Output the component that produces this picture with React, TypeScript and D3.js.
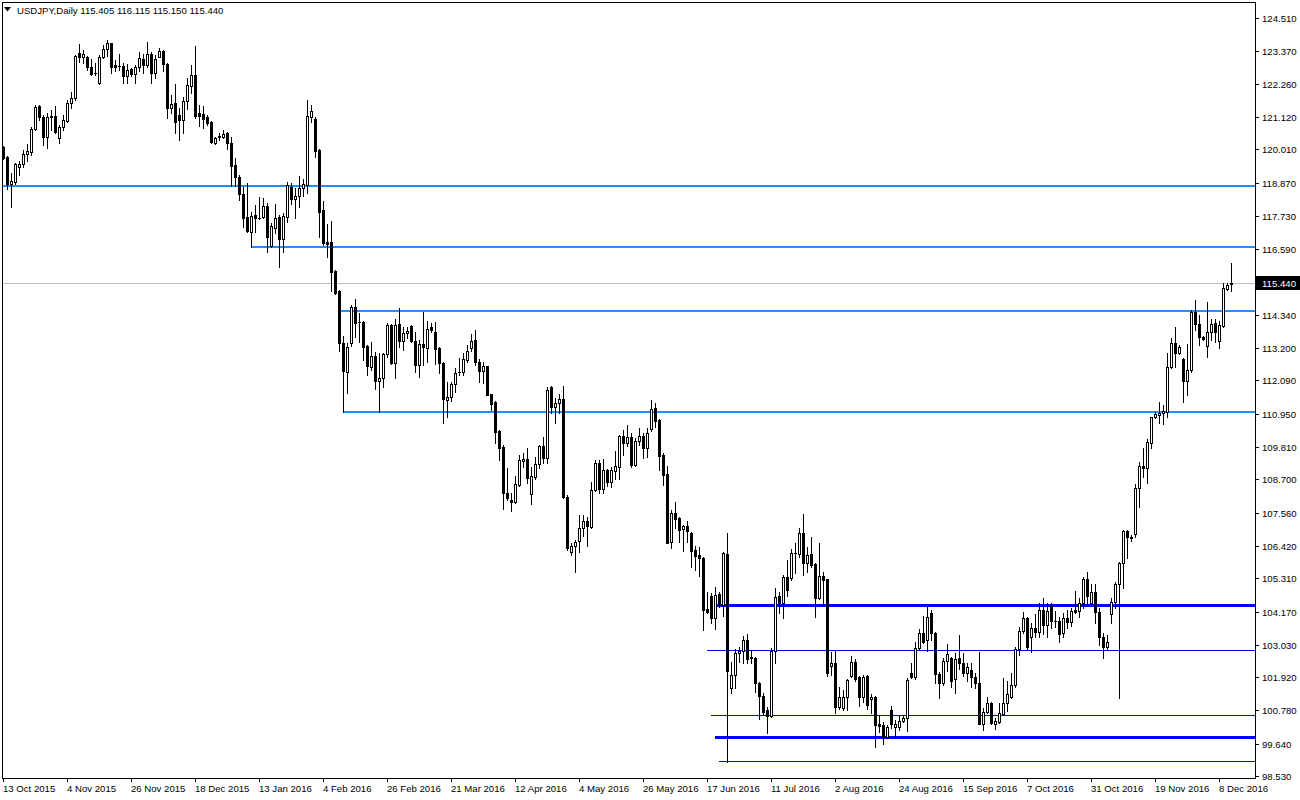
import React from 'react';
import * as d3 from 'd3';

const symbolTitle = 'USDJPY,Daily';
const lastOHLC = ['115.405', '116.115', '115.150', '115.440'];
const lastBid = 115.44;

const openP = [
120.09,119.75,118.82,118.89,119.40,119.51,119.85,119.92,120.71,121.49,
121.12,120.43,121.15,121.15,120.40,120.78,120.98,121.60,121.77,123.31,
123.17,123.17,122.83,122.62,122.28,123.17,123.45,123.65,122.90,122.87,
122.87,122.52,122.76,122.59,122.83,123.10,122.90,123.28,122.62,123.17,
123.38,122.93,121.43,121.60,121.19,121.02,121.67,122.18,122.56,121.25,
121.22,121.12,120.95,120.23,120.47,120.43,120.57,120.23,119.47,119.06,
118.48,117.69,117.18,117.76,117.66,117.69,118.07,116.70,117.31,117.69,
116.94,117.69,118.72,118.31,118.41,118.68,118.79,121.12,121.05,119.99,
117.93,116.83,116.83,115.84,115.15,113.37,112.38,113.37,114.61,114.09,
114.09,113.27,112.55,112.93,112.07,112.17,113.00,113.99,112.69,114.02,
113.44,113.71,113.95,113.44,112.62,113.34,113.20,113.92,113.75,113.20,
112.69,111.42,111.52,111.97,112.38,112.38,112.79,113.20,113.48,112.72,
112.41,112.58,111.62,111.35,110.36,109.81,108.23,107.99,107.92,108.51,
109.33,109.40,108.20,108.78,109.23,109.84,109.43,111.87,111.18,111.32,
111.45,108.09,106.21,106.42,106.59,107.03,107.27,107.07,108.33,109.26,
108.37,109.02,108.61,108.99,109.12,110.19,109.95,110.15,109.19,110.02,
110.19,109.77,110.43,111.14,110.73,109.53,108.88,106.55,107.55,107.38,
107.00,107.10,106.86,106.28,106.11,106.00,104.26,104.70,103.95,104.77,
104.39,106.14,101.55,102.00,102.75,102.82,103.20,102.61,102.58,101.72,
101.28,100.80,100.59,102.82,104.70,104.46,105.35,105.32,106.18,106.14,
106.86,105.83,106.14,105.80,104.63,105.39,105.28,102.30,102.40,100.90,
100.87,101.24,101.96,102.44,101.93,101.24,101.96,101.17,101.24,100.32,
100.28,99.87,100.80,100.21,100.21,100.42,100.52,102.06,101.93,102.92,
103.43,103.20,104.12,103.43,102.03,101.72,102.47,102.58,101.86,102.58,
102.40,102.06,102.17,101.93,101.72,100.32,100.73,101.04,100.32,100.38,
100.66,101.04,101.24,101.65,102.89,103.50,103.95,103.30,103.61,103.47,
104.22,103.71,104.36,103.85,103.85,103.43,103.95,103.81,104.22,104.19,
104.46,105.28,104.46,104.84,104.15,103.30,102.95,104.08,104.50,105.11,
105.84,106.93,106.72,106.83,108.40,109.16,109.09,109.95,110.84,110.90,
110.97,111.01,112.55,113.37,113.03,112.82,112.07,112.45,114.44,114.02,
113.58,113.27,113.75,114.06,113.44,113.95,115.22,115.405
];

const highP = [
120.12,119.78,119.20,119.54,119.61,119.99,120.19,120.78,121.53,121.53,
121.19,121.25,121.36,121.49,120.84,121.19,121.70,121.97,123.24,123.62,
123.41,123.21,123.10,122.97,123.24,123.58,123.76,123.67,123.07,123.28,
122.97,122.93,122.78,122.90,123.34,123.28,123.69,123.34,123.24,123.48,
123.41,122.97,121.87,122.25,121.43,121.80,122.45,122.90,123.55,121.53,
121.49,121.19,120.98,120.43,120.57,120.67,120.60,120.43,119.71,119.13,
118.72,118.86,117.86,118.10,118.38,118.34,118.17,117.48,118.14,117.76,
117.83,118.89,118.86,118.68,119.10,118.99,121.70,121.53,121.12,120.02,
118.24,117.45,117.55,115.87,115.19,113.61,113.37,114.68,114.88,114.40,
114.11,113.30,113.41,113.06,113.03,113.03,114.06,114.02,114.19,114.57,
113.92,113.92,113.99,113.75,113.48,114.44,114.13,114.06,114.09,113.22,
112.72,112.04,112.04,112.52,112.86,113.03,113.30,113.68,113.82,112.82,
112.72,112.60,111.64,111.38,110.38,109.88,109.09,108.23,108.81,109.53,
109.60,109.77,109.12,109.47,109.88,110.15,111.87,111.90,111.49,111.62,
111.90,108.16,106.52,106.62,107.48,107.48,107.41,108.61,109.36,109.36,
109.40,109.05,109.12,109.67,110.22,110.39,110.56,110.29,110.12,110.46,
110.29,110.46,111.42,111.32,110.77,109.60,109.16,107.65,107.92,107.41,
107.14,107.27,106.88,106.42,106.38,106.04,104.84,104.80,105.01,104.84,
106.21,106.86,102.44,102.89,102.95,103.33,103.40,102.85,102.60,101.76,
101.38,100.90,102.92,104.98,104.84,105.42,105.94,106.31,106.52,107.03,
107.51,106.38,106.72,105.83,106.52,105.53,105.30,102.78,102.82,101.58,
101.48,101.86,102.65,102.54,101.96,102.00,102.00,101.34,101.28,100.62,
100.38,100.28,100.93,100.45,100.62,100.62,101.89,102.40,103.13,103.57,
104.02,104.36,104.22,103.47,102.10,102.58,103.06,102.61,102.75,103.37,
102.75,102.40,102.40,102.06,102.78,100.87,101.24,101.07,100.52,101.04,
101.89,101.79,102.06,102.95,103.64,104.15,103.98,103.78,104.08,104.46,
104.63,104.46,104.46,104.19,103.98,104.12,104.22,104.29,104.87,104.63,
105.35,105.53,105.11,105.11,104.29,103.43,103.37,104.63,105.18,105.87,
106.96,106.96,106.79,108.54,109.30,109.77,110.08,110.84,111.01,111.35,
111.25,113.03,113.54,113.92,113.30,112.86,113.34,114.50,114.85,114.33,
113.61,114.78,114.19,114.19,114.13,115.43,115.43,116.115
];

const lowP = [
119.68,118.65,118.03,118.82,119.13,119.40,119.61,119.82,120.67,121.02,
120.16,120.05,120.67,120.57,120.23,120.67,120.95,121.43,121.70,123.00,
122.97,122.73,122.56,122.56,122.25,123.14,123.21,122.62,122.69,122.73,
122.28,122.28,122.52,122.28,122.69,122.62,122.83,122.28,122.45,123.17,
122.69,121.08,121.25,120.57,120.33,120.57,121.39,121.94,121.08,120.81,
120.74,120.84,120.23,120.19,120.33,120.40,120.02,118.75,118.75,118.27,
117.35,117.18,116.66,117.18,117.63,117.66,116.49,116.66,117.14,115.98,
116.49,117.52,118.14,117.66,118.03,118.41,118.51,120.95,119.75,117.00,
116.73,116.32,115.15,115.05,113.10,111.01,111.66,113.27,113.58,113.41,
112.79,112.28,112.45,111.80,111.01,111.87,112.89,112.66,112.17,113.24,
113.13,113.54,113.41,112.38,112.21,112.62,112.72,113.75,112.66,112.34,
110.63,110.84,111.39,111.69,112.28,112.28,112.72,113.10,112.62,112.04,
112.00,111.59,111.08,109.95,109.36,107.68,107.99,107.62,107.89,108.47,
109.12,108.57,107.86,108.71,109.09,109.26,109.26,110.97,110.63,110.97,
108.06,106.28,106.11,105.53,106.21,106.76,106.42,107.04,108.30,108.23,
108.23,108.47,108.44,108.71,108.71,109.53,109.84,109.12,109.16,109.88,
109.43,109.47,110.36,110.49,109.02,108.51,106.52,106.35,107.03,106.55,
106.24,106.55,105.70,105.59,105.39,103.54,104.12,103.78,103.57,104.32,
104.02,99.01,101.38,101.55,102.44,102.40,102.40,102.40,101.41,100.49,
100.62,100.01,100.56,102.40,104.12,103.95,104.70,105.25,105.49,106.04,
105.42,105.53,105.70,103.98,104.60,104.39,101.96,102.00,100.69,100.83,
100.80,100.80,101.93,101.79,100.93,101.07,100.83,100.69,99.53,100.04,
99.63,99.84,100.18,99.87,100.11,100.38,100.08,101.89,101.86,102.89,
103.09,102.82,103.20,101.72,101.21,101.65,102.13,101.58,101.38,102.20,
101.96,101.79,101.58,101.55,100.32,100.11,100.69,100.32,100.14,100.35,
100.62,100.76,101.21,101.58,102.68,103.43,102.89,102.78,103.30,103.30,
103.40,103.30,103.61,103.64,103.13,103.30,103.61,103.67,104.12,103.98,
104.29,104.46,104.43,103.78,103.02,102.58,102.89,103.78,104.29,101.21,
104.98,106.00,106.59,106.72,107.75,108.78,108.57,109.77,110.80,110.63,
110.59,110.84,112.52,112.55,113.00,111.35,111.59,112.38,113.82,113.30,
113.48,112.89,113.48,113.41,113.20,113.92,115.19,115.150
];

const closeP = [
119.71,118.82,118.92,119.51,119.51,119.85,119.95,120.71,121.46,121.12,
120.43,121.12,121.12,120.60,120.78,121.02,121.60,121.77,123.21,123.17,
123.28,122.83,122.59,122.63,123.17,123.45,123.65,122.83,122.83,122.86,
122.52,122.73,122.59,122.83,123.14,122.90,123.28,122.62,123.10,123.38,
122.93,121.43,121.56,120.95,121.02,121.67,122.21,122.56,121.15,121.15,
121.05,120.91,120.26,120.40,120.44,120.54,120.23,119.44,119.06,118.48,
117.66,117.21,117.73,117.66,117.67,118.07,117.00,117.38,117.66,116.94,
117.73,118.79,118.31,118.41,118.68,118.82,121.15,121.32,119.95,117.86,
116.80,116.77,115.81,115.08,113.37,112.41,113.24,114.61,114.06,114.08,
113.24,112.58,112.93,112.07,112.17,113.00,113.99,112.69,113.99,113.44,
113.71,113.78,113.44,112.62,113.34,113.24,113.85,113.82,113.17,112.69,
111.45,111.52,111.97,112.34,112.39,112.82,113.10,113.44,112.72,112.41,
112.58,111.59,111.28,110.32,109.77,108.23,108.06,107.92,108.54,109.36,
109.40,108.74,108.81,109.23,109.84,109.43,111.76,111.18,111.32,111.45,
108.09,106.35,106.42,106.55,107.03,107.27,107.10,108.33,109.26,108.37,
109.02,108.61,109.02,109.16,110.19,109.95,110.15,109.19,110.02,110.19,
109.77,110.29,111.11,110.70,109.50,108.85,106.52,107.55,107.34,106.96,
107.10,106.93,106.24,106.07,106.00,104.22,104.15,103.95,104.74,104.43,
106.18,102.13,102.00,102.75,102.82,103.20,102.54,102.58,101.72,101.28,
100.73,100.59,102.82,104.67,104.46,105.35,104.91,106.18,106.17,106.86,
105.83,106.11,105.76,104.63,105.39,105.25,102.06,102.40,100.90,101.24,
101.24,101.82,102.44,101.86,101.24,101.93,100.97,101.24,100.28,100.25,
99.87,100.21,100.32,100.32,100.42,100.52,101.82,101.93,102.92,103.43,
103.13,103.98,103.43,102.03,101.72,102.47,102.71,101.79,102.54,102.40,
102.06,102.27,101.93,101.72,100.32,100.73,101.04,100.35,100.42,100.69,
101.04,101.34,101.65,102.89,103.50,103.95,102.95,103.61,103.47,104.22,
103.71,104.19,103.85,103.84,103.40,103.95,103.81,104.19,104.15,104.46,
105.28,104.70,104.84,104.15,103.30,102.95,103.13,104.50,105.11,105.84,
106.93,106.72,106.69,108.40,109.16,109.09,109.98,110.84,110.94,110.97,
111.04,112.55,113.37,113.03,113.24,112.07,112.45,114.44,114.02,113.58,
113.51,113.75,114.02,113.75,113.99,115.26,115.36,115.44
];

const dateLabels = [
  '13 Oct 2015', '4 Nov 2015', '26 Nov 2015', '18 Dec 2015', '13 Jan 2016',
  '4 Feb 2016', '26 Feb 2016', '21 Mar 2016', '12 Apr 2016', '4 May 2016',
  '26 May 2016', '17 Jun 2016', '11 Jul 2016', '2 Aug 2016', '24 Aug 2016',
  '15 Sep 2016', '7 Oct 2016', '31 Oct 2016', '19 Nov 2016', '8 Dec 2016'
];
const barsPerDateLabel = 16;

const priceTicks = [
  124.51, 123.37, 122.26, 121.12, 120.01, 118.87, 117.73, 116.59,
  114.34, 113.2, 112.09, 110.95, 109.81, 108.7, 107.56, 106.42,
  105.31, 104.17, 103.03, 101.92, 100.78, 99.64, 98.53
];

// horizontal support / resistance levels
const levelPrices = [118.74, 116.65, 114.48, 111.02, 104.40, 102.85, 100.61, 99.88, 99.05];
const levelStartBar = [-2, 62, 84, 85, 178, 176, 177, 178, 179];
const levelKind = ['light', 'light', 'light', 'light', 'thick', 'thin', 'thin', 'thick', 'thin'];

const W = 1300;
const H = 800;
const PL = 2;
const PR = 1255;
const PT = 2;
const PB = 778;
const FONT = '"Liberation Sans", Arial, sans-serif';

export default function App() {
  const n = closeP.length;
  const x = d3.scaleLinear().domain([0, n - 1]).range([3.3, 3.3 + 4 * (n - 1)]);
  const y = d3.scaleLinear().domain([124.51, 98.53]).range([18, 776.1]);

  const levelStyles: Record<string, { color: string; w: number }> = {
    light: { color: '#1E90FF', w: 2 },
    thick: { color: '#0000FF', w: 3 },
    thin: { color: '#0000FF', w: 1 },
  };

  const candles = closeP.map((c, i) => {
    const o = openP[i];
    const cx = Math.round(x(i));
    const yH = Math.round(y(highP[i]));
    const yL = Math.round(y(lowP[i]));
    const yTop = Math.round(y(Math.max(o, c)));
    const yBot = Math.round(y(Math.min(o, c)));
    const bull = c >= o;
    const bh = yBot - yTop;
    return (
      <g key={i}>
        <line x1={cx + 0.5} x2={cx + 0.5} y1={yH} y2={yL + 1} stroke="#000" strokeWidth={1} />
        {bh >= 1 ? (
          <rect x={cx - 1 + 0.5} y={yTop + 0.5} width={2} height={bh}
            fill={bull ? '#fff' : '#000'} stroke="#000" strokeWidth={1} />
        ) : (
          <line x1={cx - 1} x2={cx + 2} y1={yTop + 0.5} y2={yTop + 0.5} stroke="#000" strokeWidth={1} />
        )}
      </g>
    );
  });

  const bidY = Math.round(y(lastBid));

  return (
    <svg width={W} height={H} style={{ position: 'absolute', left: 0, top: 0, background: '#fff' }}
      fontFamily={FONT}>
      <rect x={0} y={0} width={W} height={H} fill="#fff" />
      <defs>
        <clipPath id="plot">
          <rect x={PL + 0.5} y={PT + 0.5} width={PR - PL} height={PB - PT} />
        </clipPath>
      </defs>

      {/* bid line */}
      <line x1={PL} x2={PR} y1={bidY + 0.5} y2={bidY + 0.5} stroke="#C0C0C0" strokeWidth={1} />

      {/* levels */}
      <g clipPath="url(#plot)">
        {levelPrices.map((p, k) => {
          const st = levelStyles[levelKind[k]];
          const yr = Math.round(y(p));
          const yy = st.w % 2 === 1 ? yr + 0.5 : yr;
          return (
            <line key={k} x1={Math.round(x(levelStartBar[k]))} x2={PR} y1={yy} y2={yy}
              stroke={st.color} strokeWidth={st.w} />
          );
        })}
        {candles}
      </g>

      {/* frame */}
      <rect x={PL + 0.5} y={PT + 0.5} width={PR - PL} height={PB - PT} fill="none" stroke="#000" strokeWidth={1} />

      {/* title */}
      <path d="M4,7 L11,7 L7.5,11.5 Z" fill="#000" />
      <text x={17} y={14} fontSize={9.6} fill="#000">
        {symbolTitle + ' ' + lastOHLC.join(' ')}
      </text>

      {/* price axis */}
      {priceTicks.map((p, k) => {
        const yy = Math.round(y(p));
        return (
          <g key={k}>
            <line x1={PR} x2={PR + 4} y1={yy + 0.5} y2={yy + 0.5} stroke="#000" strokeWidth={1} />
            <text x={1262} y={yy + 3.5} fontSize={9.6} fill="#000">{p.toFixed(3)}</text>
          </g>
        );
      })}
      <rect x={PR + 1} y={bidY - 7} width={W - PR - 1} height={14} fill="#000" />
      <text x={1262} y={bidY + 4} fontSize={9.6} fill="#fff">{lastBid.toFixed(3)}</text>

      {/* time axis */}
      {dateLabels.map((d, k) => {
        const xi = Math.round(x(k * barsPerDateLabel));
        return (
          <g key={k}>
            <line x1={xi + 0.5} x2={xi + 0.5} y1={PB} y2={PB + 4} stroke="#000" strokeWidth={1} />
            <text x={xi} y={792} fontSize={9.6} fill="#000">{d}</text>
          </g>
        );
      })}
    </svg>
  );
}
